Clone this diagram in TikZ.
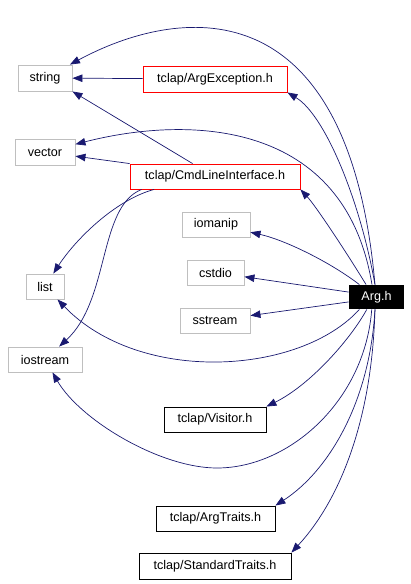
\documentclass[tikz,border=0pt]{standalone}
\usepackage{fontspec}
\setmainfont{Liberation Sans}
\usetikzlibrary{arrows.meta}
\definecolor{edgec}{HTML}{191970}
\definecolor{sysc}{HTML}{BFBFBF}
\begin{document}
\begin{tikzpicture}[x=1pt,y=-1pt,
  every node/.style={font=\fontsize{12.6}{14}\selectfont, inner sep=0pt, line width=0.9pt},
  sysbox/.style={draw=sysc},
  docbox/.style={draw=red},
  plainbox/.style={draw=black},
  mainbox/.style={fill=black, text=white},
  dep/.style={draw=edgec, line width=0.7pt, -{Triangle[length=10pt,width=7.5pt]}}]
\useasboundingbox (0,0) rectangle (411,584);
% nodes
\node[sysbox, minimum width=54pt, minimum height=26pt] (string) at (45,78) {string};
\node[docbox, minimum width=144pt, minimum height=26pt] (argexc) at (215,79) {tclap/ArgException.h};
\node[sysbox, minimum width=60pt, minimum height=26pt] (vector) at (45,152) {vector};
\node[docbox, minimum width=170pt, minimum height=25pt] (cmd) at (215,176.5) {tclap/CmdLineInterface.h};
\node[sysbox, minimum width=68pt, minimum height=25pt] (iomanip) at (216,224.5) {iomanip};
\node[sysbox, minimum width=57pt, minimum height=25pt] (cstdio) at (215.5,272.5) {cstdio};
\node[sysbox, minimum width=70pt, minimum height=25pt] (sstream) at (215,320.5) {sstream};
\node[sysbox, minimum width=38pt, minimum height=25pt] (list) at (45,286.5) {list};
\node[sysbox, minimum width=74pt, minimum height=25pt] (iostream) at (45,359.5) {iostream};
\node[mainbox, minimum width=55pt, minimum height=24pt] (arg) at (376.5,297) {Arg.h};
\node[plainbox, minimum width=102pt, minimum height=25pt] (visitor) at (215,419.5) {tclap/Visitor.h};
\node[plainbox, minimum width=119pt, minimum height=25pt] (argtraits) at (215.5,518.5) {tclap/ArgTraits.h};
\node[plainbox, minimum width=152pt, minimum height=26pt] (stdtraits) at (215,566) {tclap/StandardTraits.h};
% edges from Arg.h
\draw[dep] (arg.97) .. controls (348,-20) and (175,8) .. (string);
\draw[dep] (arg.97) .. controls (360,200) and (325,115) .. (argexc.south east);
\draw[dep] (arg.110) .. controls (345,120) and (190,115) .. (vector);
\draw[dep] (arg.130) .. controls (345,250) and (315,205) .. (cmd.south east);
\draw[dep] (arg.144) .. controls (330,262) and (285,240) .. (iomanip);
\draw[dep] (arg.170) -- (cstdio);
\draw[dep] (arg.190) -- (sstream);
\draw[dep] (arg.216) .. controls (300,375) and (140,385) .. (list);
\draw[dep] (arg.249) .. controls (365,400) and (290,468) .. (217,468)
  .. controls (160,468) and (80,420) .. (iostream);
\draw[dep] (arg.232) .. controls (350,340) and (310,385) .. (visitor.north east);
\draw[dep] (arg.263) .. controls (370,400) and (330,470) .. (argtraits.north east);
\draw[dep] (arg.263) .. controls (372,420) and (340,500) .. (stdtraits.north east);
% other edges
\draw[dep] (argexc) -- (string);
\draw[dep] (cmd.150) -- (string.south east);
\draw[dep] (cmd.north west) -- (vector);
\draw[dep] (cmd.192) .. controls (115,200) and (75,240) .. (list);
\draw[dep] (cmd.190) .. controls (98,207) and (110,300) .. (iostream);
\end{tikzpicture}
\end{document}
